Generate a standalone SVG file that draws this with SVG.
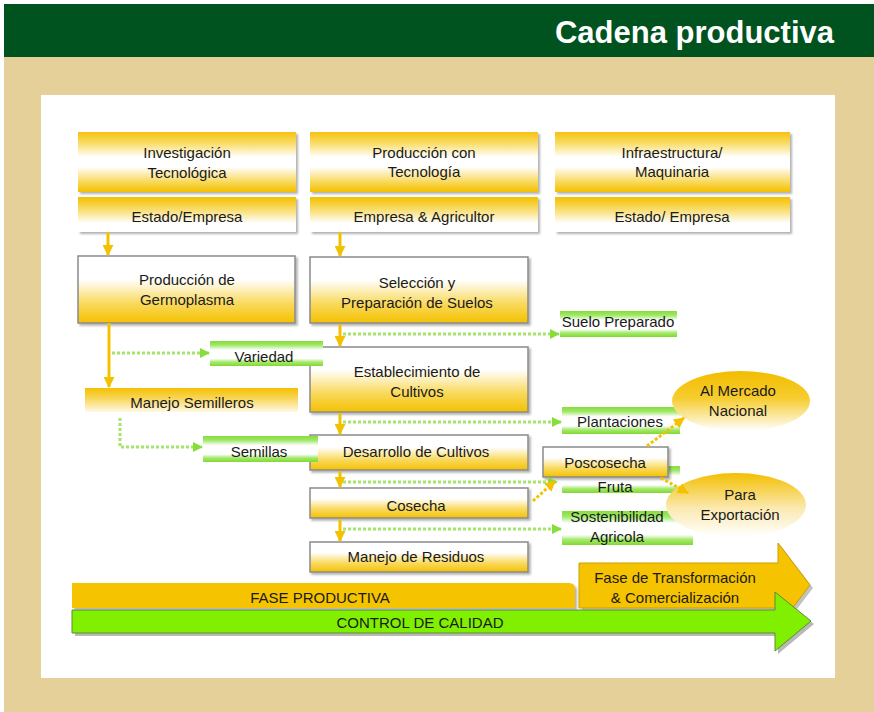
<svg xmlns="http://www.w3.org/2000/svg" width="874" height="712" viewBox="0 0 874 712">
<defs>
<style>
.t{font-family:"Liberation Sans",Arial,sans-serif;font-size:15px;fill:#1a1a1a;text-anchor:middle}
.title{font-family:"Liberation Sans",Arial,sans-serif;font-size:31px;font-weight:bold;fill:#fff;text-anchor:end}
.bx{stroke:#8a8a8a;stroke-width:1.5;fill:url(#gBox)}
.r1{fill:url(#gRow1)}
.r2{fill:url(#gRow2)}
.gb{fill:url(#gGreen)}
.dot{fill:none;stroke:#A6E46A;stroke-width:3;stroke-dasharray:3 2}
.ya{fill:none;stroke:#F2C200;stroke-width:3}
.yd{fill:none;stroke:#F2C200;stroke-width:3;stroke-dasharray:3 2}
</style>
<linearGradient id="gRow1" x1="0" y1="0" x2="0" y2="1">
<stop offset="0" stop-color="#F5C20F"/><stop offset="0.18" stop-color="#F9DB62"/><stop offset="0.42" stop-color="#FFFFFF"/><stop offset="0.58" stop-color="#FFFFFF"/><stop offset="0.85" stop-color="#F8D650"/><stop offset="1" stop-color="#F3C000"/>
</linearGradient>
<linearGradient id="gRow2" x1="0" y1="0" x2="0" y2="1">
<stop offset="0" stop-color="#F4C000"/><stop offset="0.35" stop-color="#F9DC6A"/><stop offset="0.75" stop-color="#FFFFFF"/><stop offset="1" stop-color="#FFFFFF"/>
</linearGradient>
<linearGradient id="gBox" x1="0" y1="0" x2="0" y2="1">
<stop offset="0" stop-color="#FFFFFF"/><stop offset="0.35" stop-color="#FFFFFF"/><stop offset="0.7" stop-color="#F9DA60"/><stop offset="1" stop-color="#F4C100"/>
</linearGradient>
<linearGradient id="gSem" x1="0" y1="0" x2="0" y2="1">
<stop offset="0" stop-color="#F4C000"/><stop offset="0.4" stop-color="#F8D452"/><stop offset="1" stop-color="#FFF9E6"/>
</linearGradient>
<linearGradient id="gGreen" x1="0" y1="0" x2="0" y2="1">
<stop offset="0" stop-color="#86DE3A"/><stop offset="0.16" stop-color="#9FE766"/><stop offset="0.36" stop-color="#FFFFFF"/><stop offset="0.7" stop-color="#FFFFFF"/><stop offset="0.84" stop-color="#A6E96E"/><stop offset="1" stop-color="#80DA30"/>
</linearGradient>
<linearGradient id="gEll1" x1="0" y1="0" x2="0" y2="1">
<stop offset="0" stop-color="#F2BD00"/><stop offset="0.45" stop-color="#F6CC2E"/><stop offset="1" stop-color="#FFFFFF"/>
</linearGradient>
<linearGradient id="gEll2" x1="0" y1="0" x2="0" y2="1">
<stop offset="0" stop-color="#F3BF00"/><stop offset="0.55" stop-color="#FBE9B0"/><stop offset="1" stop-color="#FFFFFF"/>
</linearGradient>
<filter id="sh" x="-5%" y="-10%" width="115%" height="130%">
<feDropShadow dx="2" dy="2" stdDeviation="1" flood-color="#000" flood-opacity="0.3"/>
</filter>
<marker id="ga" viewBox="0 0 10 10" refX="9" refY="5" markerWidth="10" markerHeight="10" markerUnits="userSpaceOnUse" orient="auto">
<path d="M0,0 L10,5 L0,10 z" fill="#86DE3C"/>
</marker>
<marker id="ya" viewBox="0 0 10 10" refX="9" refY="5" markerWidth="11" markerHeight="11" markerUnits="userSpaceOnUse" orient="auto">
<path d="M0,0 L10,5 L0,10 z" fill="#F2C200"/>
</marker>
</defs>

<rect x="0" y="0" width="874" height="712" fill="#FFFFFF"/>
<rect x="4" y="57" width="870" height="655" fill="#E6D09A"/>
<rect x="4" y="4" width="870" height="53" fill="#00521F"/>
<text class="title" x="834" y="43">Cadena productiva</text>
<rect x="41" y="95" width="794" height="583" fill="#FFFFFF"/>

<!-- Top row -->
<g id="n-investigacion">
<rect class="r1" x="78" y="132" width="218" height="60" filter="url(#sh)"/>
<text class="t" x="187" y="158">Investigación</text>
<text class="t" x="187" y="178">Tecnológica</text>
</g>
<g id="n-estado1">
<rect class="r2" x="78" y="197" width="218" height="35" filter="url(#sh)"/>
<text class="t" x="187" y="222">Estado/Empresa</text>
</g>
<g id="n-produccion-tec">
<rect class="r1" x="310" y="132" width="228" height="60" filter="url(#sh)"/>
<text class="t" x="424" y="158">Producción con</text>
<text class="t" x="424" y="177">Tecnología</text>
</g>
<g id="n-empresa">
<rect class="r2" x="310" y="197" width="228" height="35" filter="url(#sh)"/>
<text class="t" x="424" y="222">Empresa &amp; Agricultor</text>
</g>
<g id="n-infra">
<rect class="r1" x="555" y="132" width="235" height="60" filter="url(#sh)"/>
<text class="t" x="672" y="158">Infraestructura/</text>
<text class="t" x="672" y="177">Maquinaria</text>
</g>
<g id="n-estado2">
<rect class="r2" x="555" y="197" width="235" height="35" filter="url(#sh)"/>
<text class="t" x="672" y="222">Estado/ Empresa</text>
</g>

<!-- Column boxes -->
<g id="n-germoplasma">
<rect class="bx" x="78" y="256" width="217" height="67" filter="url(#sh)"/>
<text class="t" x="187" y="285">Producción de</text>
<text class="t" x="187" y="305">Germoplasma</text>
</g>
<g id="n-seleccion">
<rect class="bx" x="310" y="257" width="218" height="66" filter="url(#sh)"/>
<text class="t" x="417" y="288">Selección y</text>
<text class="t" x="417" y="308">Preparación de Suelos</text>
</g>
<g id="n-establecimiento">
<rect class="bx" x="310" y="347" width="218" height="65" filter="url(#sh)"/>
<text class="t" x="417" y="377">Establecimiento de</text>
<text class="t" x="417" y="397">Cultivos</text>
</g>
<g id="n-desarrollo">
<rect class="bx" x="310" y="435" width="218" height="35" filter="url(#sh)"/>
<text class="t" x="416" y="457">Desarrollo de Cultivos</text>
</g>
<g id="n-cosecha">
<rect class="bx" x="310" y="488" width="218" height="30" filter="url(#sh)"/>
<text class="t" x="416" y="511">Cosecha</text>
</g>
<g id="n-residuos">
<rect class="bx" x="310" y="542" width="218" height="30" filter="url(#sh)"/>
<text class="t" x="416" y="562">Manejo de Residuos</text>
</g>
<g id="n-semilleros">
<rect x="85" y="388" width="213" height="24" fill="url(#gSem)"/>
<text class="t" x="192" y="408">Manejo Semilleros</text>
</g>

<!-- Green label bars -->
<g id="n-variedad">
<rect class="gb" x="210" y="341" width="113" height="25"/>
<text class="t" x="264" y="362">Variedad</text>
</g>
<g id="n-semillas">
<rect class="gb" x="203" y="436" width="115" height="26"/>
<text class="t" x="259" y="457">Semillas</text>
</g>
<g id="n-suelo">
<rect class="gb" x="560" y="311" width="117" height="26"/>
<text class="t" x="618" y="327">Suelo Preparado</text>
</g>
<g id="n-plantaciones">
<rect class="gb" x="562" y="407" width="118" height="27"/>
<text class="t" x="620" y="427">Plantaciones</text>
</g>
<g id="n-fruta">
<rect class="gb" x="562" y="466" width="118" height="27"/>
</g>
<g id="n-poscosecha">
<rect class="bx" x="543" y="447" width="125" height="30" filter="url(#sh)"/>
<text class="t" x="605" y="468">Poscosecha</text>
</g>
<text class="t" x="615" y="492">Fruta</text>
<g id="n-sostenibilidad">
<rect class="gb" x="562" y="511" width="131" height="34"/>
<text class="t" x="617" y="522">Sostenibilidad</text>
<text class="t" x="617" y="542">Agricola</text>
</g>

<!-- Ellipses -->
<g id="n-mercado">
<ellipse cx="741" cy="401" rx="69" ry="30" fill="url(#gEll1)"/>
<text class="t" x="738" y="396">Al Mercado</text>
<text class="t" x="738" y="416">Nacional</text>
</g>
<g id="n-exportacion">
<ellipse cx="736" cy="505" rx="70" ry="32" fill="url(#gEll2)"/>
<text class="t" x="740" y="500">Para</text>
<text class="t" x="740" y="520">Exportación</text>
</g>

<!-- Connectors -->
<g id="connectors">
<line class="ya" x1="108" y1="232" x2="108" y2="255" marker-end="url(#ya)"/>
<line class="ya" x1="340" y1="232" x2="340" y2="256" marker-end="url(#ya)"/>
<line class="ya" x1="109" y1="323" x2="109" y2="387" marker-end="url(#ya)"/>
<line class="ya" x1="340" y1="324" x2="340" y2="346" marker-end="url(#ya)"/>
<line class="ya" x1="340" y1="413" x2="340" y2="434" marker-end="url(#ya)"/>
<line class="ya" x1="340" y1="471" x2="340" y2="487" marker-end="url(#ya)"/>
<line class="ya" x1="340" y1="519" x2="340" y2="541" marker-end="url(#ya)"/>
<line class="dot" x1="343" y1="334" x2="559" y2="334" marker-end="url(#ga)"/>
<line class="dot" x1="343" y1="422" x2="561" y2="422" marker-end="url(#ga)"/>
<line class="dot" x1="343" y1="482" x2="557" y2="482" marker-end="url(#ga)"/>
<line class="dot" x1="343" y1="529" x2="561" y2="529" marker-end="url(#ga)"/>
<line class="dot" x1="112" y1="353" x2="209" y2="353" marker-end="url(#ga)"/>
<polyline class="dot" points="120,418 120,447 202,447" marker-end="url(#ga)"/>
<line class="yd" x1="533" y1="501" x2="555" y2="481" marker-end="url(#ya)"/>
<line class="yd" x1="647" y1="446" x2="684" y2="418" marker-end="url(#ya)"/>
<line class="yd" x1="661" y1="478" x2="688" y2="493" marker-end="url(#ya)"/>
</g>

<!-- Bottom bars -->
<g id="n-fase-transformacion">
<polygon points="582,566 781,566 781,546 813,588 781,630 781,611 582,611" fill="#9a9a9a" opacity="0.6"/>
<polygon points="579,563 778,563 778,543 810,585 778,627 778,608 579,608" fill="#F5C300" stroke="#C9A000" stroke-width="1"/>
<text class="t" x="675" y="583">Fase de Transformación</text>
<text class="t" x="675" y="603">&amp; Comercialización</text>
</g>
<g id="n-fase-productiva">
<path d="M72,583 H569 Q575,583 575,589 V608 H72 Z" fill="#F5C300" filter="url(#sh)"/>
<text class="t" x="320" y="603">FASE PRODUCTIVA</text>
</g>
<g id="n-control">
<polygon points="75,613 778,613 778,595 814,624 778,654 778,636 75,636" fill="#8a8a8a" opacity="0.6"/>
<polygon points="72,610 775,610 775,592 811,621 775,651 775,633 72,633" fill="#80F000" stroke="#5E8A3A" stroke-width="1"/>
<text class="t" x="420" y="628">CONTROL DE CALIDAD</text>
</g>
</svg>
